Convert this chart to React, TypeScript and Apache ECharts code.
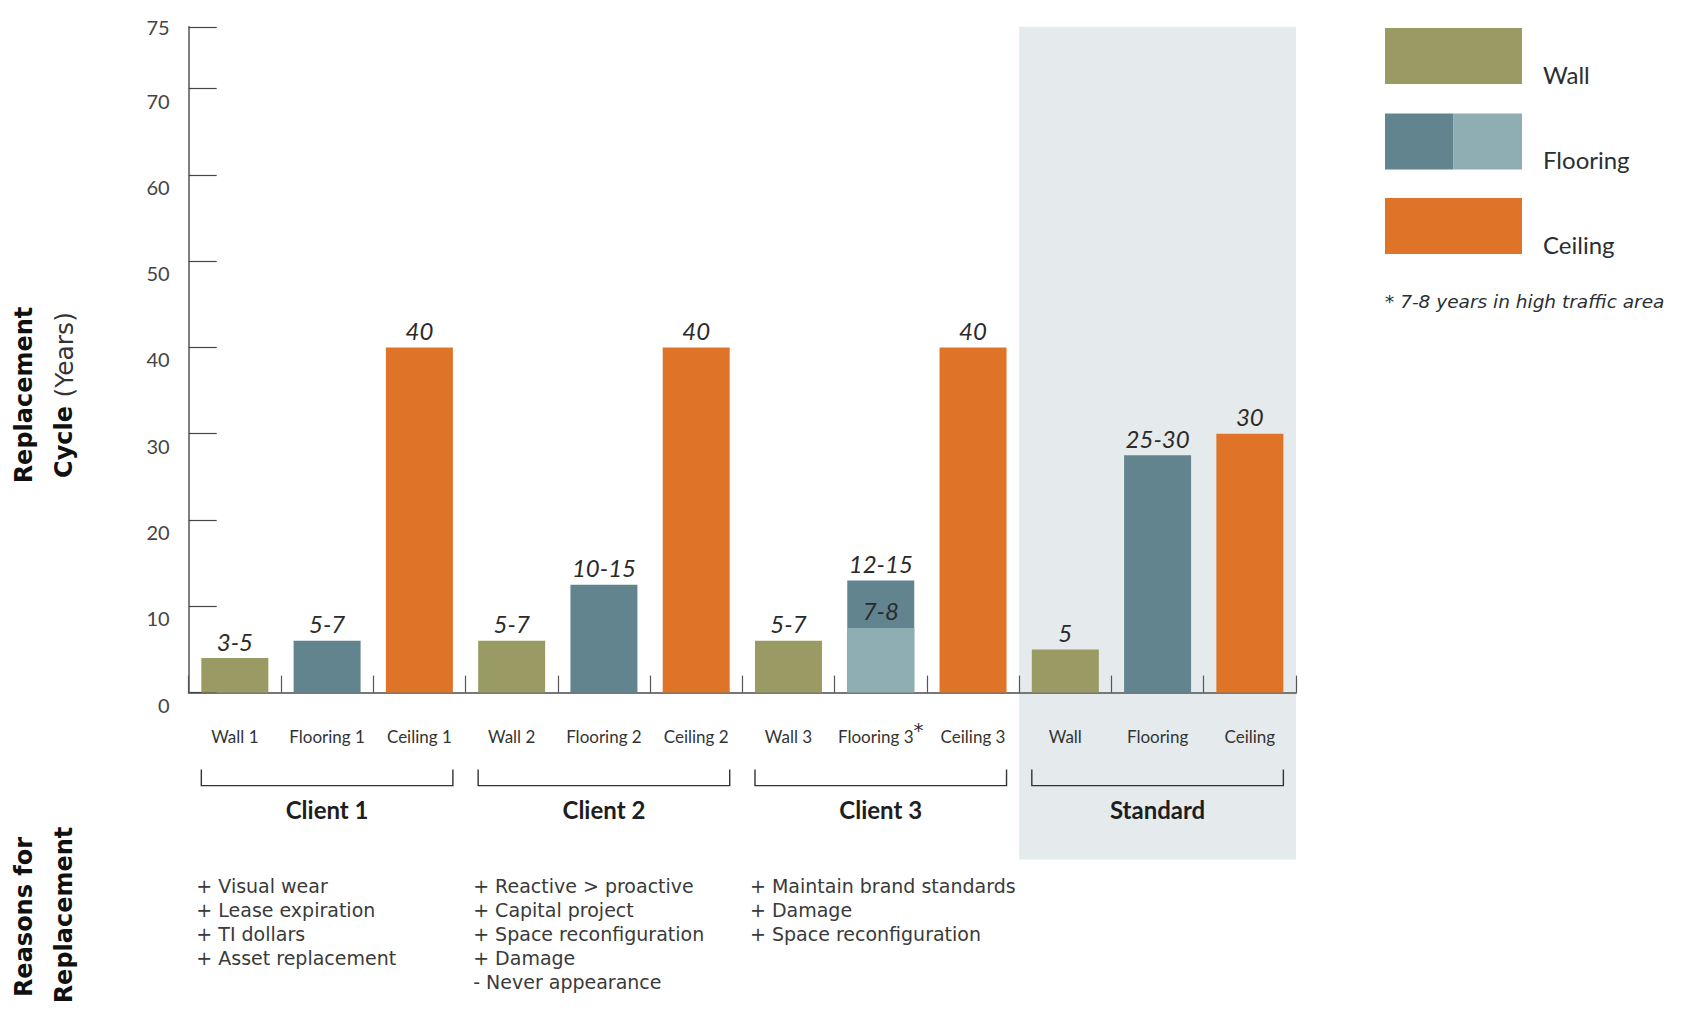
import React, { useEffect, useRef } from "react";
import * as echarts from "echarts";

// ---- data ----
const categories = [
  "Wall 1", "Flooring 1", "Ceiling 1",
  "Wall 2", "Flooring 2", "Ceiling 2",
  "Wall 3", "Flooring 3", "Ceiling 3",
  "Wall", "Flooring", "Ceiling",
];
const wallValues = [4, null, null, 6, null, null, 6, null, null, 5, null, null];
const flooringValues = [null, 6, null, null, 12.5, null, null, 13, null, null, 27.5, null];
const flooringHighTrafficValues = [null, null, null, null, null, null, null, 7.5, null, null, null, null];
const ceilingValues = [null, null, 40, null, null, 40, null, null, 40, null, null, 30];
const rangeLabels = ["3-5", "5-7", "40", "5-7", "10-15", "40", "5-7", "12-15", "40", "5", "25-30", "30"];
const highTrafficLabels = ["", "", "", "", "", "", "", "7-8", "", "", "", ""];
const starredCategory = "Flooring 3";

const yAxisTop = 77.15; // axis drawn up to here, labelled "75"
const yAxisTopLabel = "75";

const groupNames = ["Client 1", "Client 2", "Client 3", "Standard"];
const groupFirstIndex = [0, 3, 6, 9];
const groupLastIndex = [2, 5, 8, 11];
const reasons = [
  ["+ Visual wear", "+ Lease expiration", "+ TI dollars", "+ Asset replacement"],
  ["+ Reactive > proactive", "+ Capital project", "+ Space reconfiguration", "+ Damage", "- Never appearance"],
  ["+ Maintain brand standards", "+ Damage", "+ Space reconfiguration"],
  [],
];
const legendNames = ["Wall", "Flooring", "Ceiling"];
const footnote = "* 7-8 years in high traffic area";

// ---- styles ----
const C_WALL = "#9A9B64";
const C_FLOOR = "#62848F";
const C_FLOOR_LIGHT = "#8FAEB3";
const C_CEIL = "#DF7428";
const C_SHADE = "#E5EBED";
const FONT = "Lato";
const WIDE_FONT = "DejaVu Sans";
const TITLE_FONT = "DejaVu Sans";
const BAR_W = 67;

export default function App() {
  const ref = useRef<HTMLDivElement>(null);

  useEffect(() => {
    if (!ref.current) return;
    const chart = echarts.init(ref.current, undefined, { renderer: "svg" });

    const valueLabel = (labels: string[]) => ({
      show: true,
      position: "top",
      distance: 5,
      fontFamily: FONT,
      fontStyle: "italic",
      fontSize: 24,
      color: "#2a2a2a",
      formatter: (p: any) => labels[p.dataIndex],
    });

    const mkSeries = (name: string, data: any[], color: string, labels: string[]) => ({
      name,
      type: "bar",
      data,
      barWidth: BAR_W,
      barGap: "-100%",
      itemStyle: { color },
      label: valueLabel(labels),
      z: 3,
    });

    chart.setOption({
      animation: false,
      backgroundColor: "#ffffff",
      grid: { left: 188.7, right: 385, top: 26.8, bottom: 316.4, containLabel: false },
      xAxis: {
        type: "category",
        data: categories,
        boundaryGap: true,
        axisLine: { show: true, lineStyle: { color: "#777", width: 2 } },
        axisTick: {
          show: true,
          inside: true,
          length: 17,
          alignWithLabel: false,
          interval: 0,
          lineStyle: { color: "#555", width: 1.2 },
        },
        axisLabel: {
          interval: 0,
          margin: 22,
          formatter: (v: string) => (v === starredCategory ? `{a|${v}}{s|*}` : `{a|${v}}`),
          rich: {
            a: { fontFamily: FONT, fontSize: 17, color: "#333", lineHeight: 44 },
            s: { fontFamily: WIDE_FONT, fontSize: 20, color: "#333", lineHeight: 26, padding: [0, 0, 14, 0] },
          },
        },
        splitLine: { show: false },
      },
      yAxis: {
        type: "value",
        min: 0,
        max: yAxisTop,
        interval: 10,
        axisLine: { show: true, lineStyle: { color: "#555", width: 1.5 } },
        axisTick: { show: true, inside: true, length: 28, lineStyle: { color: "#444", width: 1.2 } },
        splitLine: { show: false },
        axisLabel: {
          margin: 19,
          showMaxLabel: true,
          formatter: (v: number) => (v > 72 ? `{b|${yAxisTopLabel}}` : `{a|${v}}`),
          rich: {
            a: { fontFamily: FONT, fontSize: 20, color: "#444", padding: [24, 0, 0, 0] },
            b: { fontFamily: FONT, fontSize: 20, color: "#444" },
          },
        },
      },
      series: [
        mkSeries("Wall", wallValues, C_WALL, rangeLabels),
        mkSeries("Flooring", flooringValues, C_FLOOR, rangeLabels),
        mkSeries("Flooring (high traffic)", flooringHighTrafficValues, C_FLOOR_LIGHT, highTrafficLabels),
        mkSeries("Ceiling", ceilingValues, C_CEIL, rangeLabels),
      ],
    });

    const px = (i: number) => chart.convertToPixel({ xAxisIndex: 0 }, categories[i]) as number;
    const band = px(1) - px(0);
    const yTop = chart.convertToPixel({ yAxisIndex: 0 }, yAxisTop) as number;
    const yZero = chart.convertToPixel({ yAxisIndex: 0 }, 0) as number;

    const graphics: any[] = [];

    // Standard shaded background
    graphics.push({
      type: "rect",
      z: -10,
      silent: true,
      shape: { x: px(9) - band / 2, y: yTop, width: band * 3, height: yZero + 167 - yTop },
      style: { fill: C_SHADE },
    });

    // brackets, group names, reasons
    groupNames.forEach((g, gi) => {
      const xl = px(groupFirstIndex[gi]) - BAR_W / 2;
      const xr = px(groupLastIndex[gi]) + BAR_W / 2;
      const y1 = yZero + 77;
      const y2 = yZero + 93;
      graphics.push({
        type: "polyline",
        shape: { points: [[xl, y1], [xl, y2], [xr, y2], [xr, y1]] },
        style: { stroke: "#333", lineWidth: 1.4, fill: null },
      });
      graphics.push({
        type: "text",
        x: (xl + xr) / 2,
        y: yZero + 117,
        style: {
          text: g,
          fontFamily: FONT,
          fontWeight: "bold",
          fontSize: 24,
          fill: "#1e1e1e",
          align: "center",
          verticalAlign: "middle",
        },
      });
      if (reasons[gi].length) {
        graphics.push({
          type: "text",
          x: xl - 5,
          y: yZero + 181,
          style: {
            text: reasons[gi].join("\n"),
            fontFamily: WIDE_FONT,
            fontSize: 19,
            lineHeight: 24,
            fill: "#3a3a3a",
            align: "left",
            verticalAlign: "top",
          },
        });
      }
    });

    // axis titles (rotated)
    const rotTitle = (x: number, y: number, text: string, rich?: any) => ({
      type: "text",
      x,
      y,
      rotation: Math.PI / 2,
      style: {
        text,
        fontFamily: TITLE_FONT,
        fontWeight: "bold",
        fontSize: 24,
        fill: "#111",
        align: "center",
        verticalAlign: "middle",
        rich,
      },
    });
    graphics.push(rotTitle(24, 395, "Replacement"));
    graphics.push(
      rotTitle(64, 395, "{b|Cycle} {n|(Years)}", {
        b: { fontFamily: TITLE_FONT, fontWeight: "bold", fontSize: 24, fill: "#111" },
        n: { fontFamily: TITLE_FONT, fontWeight: "normal", fontSize: 25, fill: "#333" },
      })
    );
    graphics.push(rotTitle(24, 917, "Reasons for"));
    graphics.push(rotTitle(64, 915, "Replacement"));

    // legend
    const lx = 1385;
    const lw = 137;
    const lh = 56;
    const legendTops = [28, 113.5, 198];
    graphics.push({ type: "rect", shape: { x: lx, y: legendTops[0], width: lw, height: lh }, style: { fill: C_WALL } });
    graphics.push({ type: "rect", shape: { x: lx, y: legendTops[1], width: lw / 2, height: lh }, style: { fill: C_FLOOR } });
    graphics.push({ type: "rect", shape: { x: lx + lw / 2, y: legendTops[1], width: lw / 2, height: lh }, style: { fill: C_FLOOR_LIGHT } });
    graphics.push({ type: "rect", shape: { x: lx, y: legendTops[2], width: lw, height: lh }, style: { fill: C_CEIL } });
    legendNames.forEach((n, i) => {
      graphics.push({
        type: "text",
        x: lx + lw + 21,
        y: legendTops[i] + lh - 10,
        style: {
          text: n,
          fontFamily: FONT,
          fontSize: 24,
          fill: "#2a2f33",
          align: "left",
          verticalAlign: "middle",
        },
      });
    });
    graphics.push({
      type: "text",
      x: lx,
      y: 301,
      style: {
        text: footnote,
        fontFamily: WIDE_FONT,
        fontStyle: "italic",
        fontSize: 18.5,
        fill: "#2a2f33",
        align: "left",
        verticalAlign: "middle",
      },
    });

    chart.setOption({ graphic: graphics });

    return () => chart.dispose();
  }, []);

  return (
    <div
      ref={ref}
      style={{ position: "absolute", left: 0, top: 0, width: 1681, height: 1009, background: "#fff" }}
    />
  );
}
